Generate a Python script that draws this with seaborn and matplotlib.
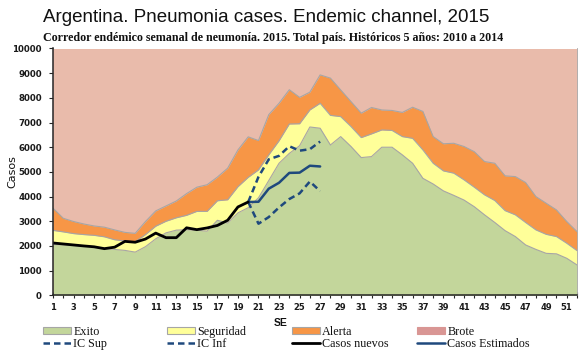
import matplotlib
matplotlib.use("Agg")
import matplotlib.pyplot as plt
import seaborn as sns
import pandas as pd
from matplotlib.patches import Patch
from matplotlib.lines import Line2D

# Epidemiological weeks (SE)
weeks = list(range(1, 53))

# Endemic channel limits (upper edge of each zone), historical 2010-2014
exito = [2060, 2050, 2020, 2000, 1970, 1910, 1860, 1820, 1750, 1970,
         2290, 2530, 2640, 2660, 2640, 2600, 3040, 2930, 3340, 3550,
         3950, 4650, 5350, 5750, 6060, 6820, 6770, 6090, 6430, 6030,
         5580, 5620, 6000, 6000, 5690, 5350, 4740, 4510, 4230, 4050,
         3860, 3590, 3260, 2950, 2620, 2380, 2040, 1860, 1700, 1680,
         1500, 1230]
seguridad = [2630, 2570, 2500, 2460, 2430, 2370, 2250, 2200, 2170, 2460,
             2800, 3000, 3140, 3240, 3400, 3400, 3830, 3870, 4400, 4780,
             5080, 5690, 6260, 6940, 6950, 7510, 7780, 7290, 7240, 6840,
             6390, 6540, 6700, 6680, 6430, 6360, 5890, 5350, 5040, 4950,
             4680, 4380, 4070, 3840, 3430, 3260, 2950, 2650, 2470, 2380,
             2110, 1810]
alerta = [3530, 3120, 2990, 2890, 2810, 2760, 2650, 2550, 2510, 2990,
          3420, 3620, 3820, 4120, 4380, 4480, 4790, 5150, 5890, 6420,
          6270, 7320, 7780, 8330, 8020, 8230, 8930, 8800, 8320, 7850,
          7380, 7610, 7510, 7490, 7410, 7620, 7450, 6430, 6140, 6160,
          6030, 5820, 5420, 5350, 4840, 4810, 4570, 4000, 3730, 3460,
          2990, 2580]
brote_top = 10000

# 2015 observed cases (weeks 1-20)
weeks_nuevos = list(range(1, 21))
casos_nuevos = [2120, 2080, 2040, 2000, 1965, 1890, 1950, 2185, 2150, 2280,
                2520, 2335, 2335, 2735, 2660, 2730, 2830, 3040, 3580, 3780]

# Estimated cases with confidence interval (weeks 20-27)
weeks_estim = list(range(20, 28))
casos_estimados = [3780, 3790, 4320, 4560, 4960, 4970, 5250, 5220]
ic_sup = [3780, 4800, 5510, 5650, 6040, 5860, 5920, 6230]
ic_inf = [3780, 2900, 3170, 3560, 3900, 4130, 4610, 4220]

tick_weeks = list(range(1, 52, 2))
y_ticks = list(range(0, 10001, 1000))

title = "Argentina. Pneumonia cases. Endemic channel, 2015"
subtitle = ("Corredor endémico semanal de neumonía. 2015. Total país. "
            "Históricos 5 años: 2010 a 2014")

# Colours
c_exito = "#c3d69b"
c_seg = "#ffff99"
c_alerta = "#f79646"
c_brote_area = "#e9bbab"
c_brote_legend = "#d99694"
c_edge = "#a6a6a6"
c_blue = "#1f497d"

sns.set_theme(style="white")
plt.rcParams["font.family"] = ["DejaVu Sans"]

W, H = 581, 356
fig = plt.figure(figsize=(W / 100, H / 100), dpi=100)
x0, x1, ytop, ybot = 53, 577, 48.5, 295.3
ax = fig.add_axes([x0 / W, 1 - ybot / H, (x1 - x0) / W, (ybot - ytop) / H])

chan = pd.DataFrame({"SE": weeks, "Exito": exito,
                     "Seguridad": seguridad, "Alerta": alerta})

ax.set_facecolor(c_brote_area)
ax.fill_between(chan["SE"], chan["Alerta"], brote_top, color=c_brote_area,
                lw=0, zorder=1)
ax.fill_between(chan["SE"], chan["Seguridad"], chan["Alerta"], color=c_alerta,
                lw=0, zorder=1)
ax.fill_between(chan["SE"], chan["Exito"], chan["Seguridad"], color=c_seg,
                lw=0, zorder=1)
ax.fill_between(chan["SE"], 0, chan["Exito"], color=c_exito, lw=0, zorder=1)
for col in ["Exito", "Seguridad", "Alerta"]:
    sns.lineplot(data=chan, x="SE", y=col, ax=ax, color=c_edge, lw=0.8,
                 zorder=2)

obs = pd.DataFrame({"SE": weeks_nuevos, "Casos": casos_nuevos})
est = pd.DataFrame({"SE": weeks_estim, "Estimados": casos_estimados,
                    "Sup": ic_sup, "Inf": ic_inf})
dash = (0, (2.6, 1.6))
sns.lineplot(data=est, x="SE", y="Sup", ax=ax, color=c_blue, lw=1.8,
             linestyle=dash, zorder=4)
sns.lineplot(data=est, x="SE", y="Inf", ax=ax, color=c_blue, lw=1.8,
             linestyle=dash, zorder=4)
sns.lineplot(data=est, x="SE", y="Estimados", ax=ax, color=c_blue, lw=1.8,
             zorder=4)
sns.lineplot(data=obs, x="SE", y="Casos", ax=ax, color="black", lw=2.0,
             zorder=5)

ax.set_xlim(1, 52)
ax.set_ylim(0, 10000)
ax.set_yticks(y_ticks)
ax.set_yticklabels([str(v) for v in y_ticks])
ax.set_xticks(weeks)
ax.set_xticklabels([str(w) if w in tick_weeks else "" for w in weeks])
ax.set_xlabel("")
ax.set_ylabel("")

ax.yaxis.grid(True, color="#c8c8c8", lw=0.8)
ax.set_axisbelow(True)
ax.xaxis.grid(False)

ax.spines["top"].set_visible(False)
ax.spines["right"].set_color(c_edge)
ax.spines["right"].set_linewidth(0.6)
for s in ["left", "bottom"]:
    ax.spines[s].set_color("#262626")
    ax.spines[s].set_linewidth(1.1)
    ax.spines[s].set_zorder(6)

ax.tick_params(axis="x", direction="inout", length=5, width=0.8,
               color="#262626", pad=3, labelsize=6, bottom=True)
ax.tick_params(axis="y", direction="out", length=3, width=0.8,
               color="#262626", pad=5, labelsize=6.2, left=True)
for lab in ax.get_xticklabels() + ax.get_yticklabels():
    lab.set_fontweight("bold")
    lab.set_color("#1a1a1a")

fig.text(266 / W, 1 - 22 / H, title, ha="center", va="baseline",
         fontsize=13.5, family="Liberation Sans", color="#111111")
fig.text(273 / W, 1 - 41 / H, subtitle, ha="center", va="baseline",
         fontsize=8.65, family="Liberation Serif", fontweight="bold",
         color="#111111")
fig.text(12 / W, 1 - 172 / H, "Casos", rotation=90, ha="center",
         va="center", fontsize=8, color="#111111")
fig.text(281 / W, 1 - 323 / H, "SE", ha="center", va="center",
         fontsize=7.5, family="Liberation Sans", fontweight="bold",
         color="#111111")

columns = [
    (43, [Patch(facecolor=c_exito, edgecolor=c_edge, lw=0.8),
          Line2D([], [], color=c_blue, lw=1.8, linestyle=dash)],
     ["Exito", "IC Sup"]),
    (167, [Patch(facecolor=c_seg, edgecolor=c_edge, lw=0.8),
           Line2D([], [], color=c_blue, lw=1.8, linestyle=dash)],
     ["Seguridad", "IC Inf"]),
    (292, [Patch(facecolor=c_alerta, edgecolor=c_edge, lw=0.8),
           Line2D([], [], color="black", lw=2.0)],
     ["Alerta", "Casos nuevos"]),
    (417, [Patch(facecolor=c_brote_legend, edgecolor=c_brote_legend, lw=0.8),
           Line2D([], [], color=c_blue, lw=1.8)],
     ["Brote", "Casos Estimados"]),
]
for xl, handles, labels in columns:
    leg = fig.legend(handles, labels, loc="upper left",
                     bbox_to_anchor=(xl / W, 1 - 326 / H), frameon=False,
                     borderpad=0, borderaxespad=0, handlelength=2.3,
                     handleheight=0.55, handletextpad=0.2, labelspacing=0.0,
                     prop={"family": "Liberation Serif", "size": 8.7})
    for t in leg.get_texts():
        t.set_color("#111111")

fig.savefig("out.png", dpi=100)
